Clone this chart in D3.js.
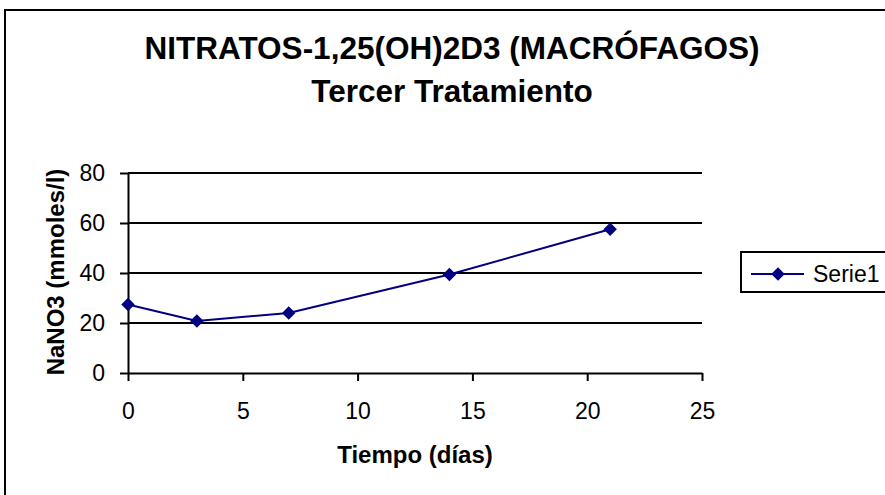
<!DOCTYPE html>
<html>
<head>
<meta charset="utf-8">
<script src="https://cdn.jsdelivr.net/npm/d3@7"></script>
<style>
  body { margin: 0; background: #fff; }
  svg { display: block; font-family: "Liberation Sans", Arial, sans-serif; }
</style>
</head>
<body>
<div class="graphContainer"></div>
<script>
// chart data
const days = [0, 3, 7, 14, 21];
const nitratos = [27.4, 20.8, 24.0, 39.4, 57.5];
const xTicks = [0, 5, 10, 15, 20, 25];
const yTicks = [0, 20, 40, 60, 80];
const seriesName = "Serie1";
const titleLines = ["NITRATOS-1,25(OH)2D3 (MACRÓFAGOS)", "Tercer Tratamiento"];
const xLabel = "Tiempo (días)";
const yLabel = "NaNO3 (mmoles/l)";

const w = 885;
const h = 495;
const navy = "#000080";

const svg = d3.select(".graphContainer").append("svg")
  .attr("width", w)
  .attr("height", h);

// outer frame (runs off the right and bottom edge like the reference)
svg.append("rect")
  .attr("x", 5).attr("y", 10)
  .attr("width", w + 20).attr("height", h + 20)
  .attr("fill", "none").attr("stroke", "#000").attr("stroke-width", 2);

const xScale = d3.scaleLinear().domain([0, 25]).range([128, 702]);
const yScale = d3.scaleLinear().domain([0, 80]).range([373, 173]);

// gridlines
svg.append("g")
  .selectAll("line")
  .data(yTicks.filter(d => d > 0))
  .enter().append("line")
  .attr("x1", xScale(0)).attr("x2", xScale(25))
  .attr("y1", d => yScale(d)).attr("y2", d => yScale(d))
  .attr("stroke", "#000").attr("stroke-width", 2);

// axes
const xAxis = d3.axisBottom(xScale).tickValues(xTicks).tickSize(8).tickSizeOuter(0).tickPadding(22);
const yAxis = d3.axisLeft(yScale).tickValues(yTicks).tickSize(8).tickSizeOuter(0).tickPadding(15);

const gx = svg.append("g")
  .attr("transform", "translate(0," + yScale(0) + ")")
  .call(xAxis);
const gy = svg.append("g")
  .attr("transform", "translate(" + xScale(0) + ",0)")
  .call(yAxis);

[gx, gy].forEach(g => {
  g.select(".domain").attr("stroke", "#000").attr("stroke-width", 2);
  g.selectAll(".tick line").attr("stroke", "#000").attr("stroke-width", 2);
  g.selectAll(".tick text")
    .attr("fill", "#000")
    .style("font-size", "23px")
    .style("font-family", "'Liberation Sans', Arial, sans-serif");
});

// series line
const line = d3.line()
  .x((d, i) => xScale(days[i]))
  .y(d => yScale(d));

svg.append("path")
  .datum(nitratos)
  .attr("d", line)
  .attr("fill", "none")
  .attr("stroke", navy)
  .attr("stroke-width", 2);

const diamond = d3.symbol().type(d3.symbolDiamond2).size(115);

svg.selectAll(".pt")
  .data(nitratos)
  .enter().append("path")
  .attr("class", "pt")
  .attr("d", diamond)
  .attr("transform", (d, i) => "translate(" + xScale(days[i]) + "," + yScale(d) + ")")
  .attr("fill", navy);

// titles
svg.selectAll(".title")
  .data(titleLines)
  .enter().append("text")
  .attr("class", "title")
  .attr("x", 452)
  .attr("y", (d, i) => 59 + i * 43)
  .attr("text-anchor", "middle")
  .style("font-size", "31.5px")
  .style("font-weight", "bold")
  .text(d => d);

svg.append("text")
  .attr("x", 415).attr("y", 463)
  .attr("text-anchor", "middle")
  .style("font-size", "24px")
  .style("font-weight", "bold")
  .text(xLabel);

svg.append("text")
  .attr("transform", "translate(64,272) rotate(-90)")
  .attr("text-anchor", "middle")
  .style("font-size", "24px")
  .style("font-weight", "bold")
  .text(yLabel);

// legend
const lg = svg.append("g").attr("transform", "translate(741,252)");
lg.append("rect")
  .attr("x", 0).attr("y", 0)
  .attr("width", 160).attr("height", 40)
  .attr("fill", "#fff").attr("stroke", "#000").attr("stroke-width", 2);
lg.append("line")
  .attr("x1", 10).attr("x2", 63).attr("y1", 22).attr("y2", 22)
  .attr("stroke", navy).attr("stroke-width", 2);
lg.append("path")
  .attr("d", diamond)
  .attr("transform", "translate(37,22)")
  .attr("fill", navy);
lg.append("text")
  .attr("x", 72).attr("y", 30)
  .style("font-size", "23px")
  .text(seriesName);
</script>
</body>
</html>
